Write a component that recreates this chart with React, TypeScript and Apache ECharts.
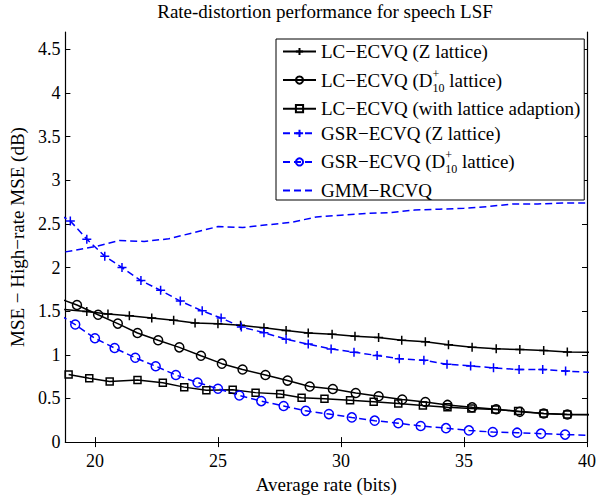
import React, { useEffect, useRef } from 'react';
import * as echarts from 'echarts';

const FONT = 'Liberation Serif';

const titleText = 'Rate-distortion performance for speech LSF';
const xName = 'Average rate (bits)';
const yName = 'MSE \u2212 High\u2212rate MSE (dB)';

const xTicks = [20, 25, 30, 35, 40];
const yTicks = [0, 0.5, 1, 1.5, 2, 2.5, 3, 3.5, 4, 4.5];

const seriesNames = [
  'LC\u2212ECVQ (Z lattice)',
  'LC\u2212ECVQ (D10+ lattice)',
  'LC\u2212ECVQ (with lattice adaption)',
  'GSR\u2212ECVQ (Z lattice)',
  'GSR\u2212ECVQ (D10+ lattice)',
  'GMM\u2212RCVQ',
];

const lcZx = [18.75, 19.67, 20.53, 21.4, 22.31, 23.2, 24.07, 25.0, 25.92, 26.87, 27.77, 28.67, 29.64, 30.57, 31.53, 32.47, 33.43, 34.37, 35.33, 36.31, 37.27, 38.24, 39.2, 40.15];
const lcZy = [1.52, 1.497, 1.467, 1.448, 1.422, 1.396, 1.366, 1.355, 1.34, 1.31, 1.28, 1.25, 1.235, 1.213, 1.198, 1.168, 1.15, 1.116, 1.086, 1.07, 1.06, 1.049, 1.034, 1.03];

const lcDx = [18.7, 19.27, 20.13, 20.93, 21.73, 22.57, 23.43, 24.31, 25.16, 26.0, 26.93, 27.83, 28.73, 29.67, 30.6, 31.53, 32.49, 33.43, 34.33, 35.33, 36.31, 37.27, 38.24, 39.2, 40.15];
const lcDy = [1.63, 1.571, 1.459, 1.358, 1.25, 1.168, 1.086, 0.989, 0.899, 0.832, 0.769, 0.705, 0.638, 0.608, 0.563, 0.526, 0.489, 0.459, 0.426, 0.4, 0.377, 0.347, 0.328, 0.317, 0.315];

const lcAx = [18.93, 19.77, 20.6, 21.73, 22.76, 23.63, 24.53, 25.6, 26.53, 27.53, 28.4, 29.33, 30.37, 31.33, 32.33, 33.33, 34.33, 35.3, 36.27, 37.2, 38.24, 39.2, 40.15];
const lcAy = [0.775, 0.731, 0.694, 0.713, 0.68, 0.63, 0.595, 0.601, 0.567, 0.55, 0.507, 0.498, 0.48, 0.462, 0.442, 0.42, 0.4, 0.384, 0.375, 0.355, 0.328, 0.316, 0.314];

const gsrZx = [18.6, 19.0, 19.67, 20.4, 21.1, 21.87, 22.67, 23.47, 24.36, 25.13, 25.95, 26.87, 27.77, 28.67, 29.6, 30.53, 31.47, 32.37, 33.37, 34.31, 35.27, 36.2, 37.24, 38.2, 39.13, 40.15];
const gsrZy = [2.6, 2.534, 2.326, 2.131, 2.0, 1.851, 1.739, 1.616, 1.504, 1.422, 1.32, 1.254, 1.179, 1.123, 1.067, 1.03, 0.993, 0.955, 0.937, 0.892, 0.873, 0.851, 0.832, 0.832, 0.814, 0.8];

const gsrDx = [18.6, 19.2, 20.0, 20.8, 21.64, 22.47, 23.29, 24.17, 25.0, 25.87, 26.76, 27.67, 28.57, 29.51, 30.44, 31.37, 32.33, 33.24, 34.27, 35.2, 36.17, 37.16, 38.13, 39.11, 40.15];
const gsrDy = [1.45, 1.347, 1.19, 1.078, 0.966, 0.87, 0.769, 0.683, 0.612, 0.534, 0.47, 0.414, 0.358, 0.321, 0.283, 0.246, 0.216, 0.185, 0.16, 0.134, 0.115, 0.108, 0.097, 0.086, 0.078];

const gmmX = [18.8, 20, 21, 22, 23, 24, 25, 26, 27, 28, 29, 30, 31, 32, 33, 34, 35, 36, 37, 38, 39, 40];
const gmmY = [2.18, 2.24, 2.31, 2.3, 2.33, 2.4, 2.47, 2.46, 2.49, 2.52, 2.58, 2.6, 2.62, 2.63, 2.66, 2.67, 2.68, 2.7, 2.73, 2.73, 2.74, 2.74];

const zip = (xs: number[], ys: number[]) => xs.map((x, i) => [x, ys[i]]);

const PLUS = 'path://M5,0 L5,10 M0,5 L10,5';
const BLUE = '#0000ff';
const BLACK = '#000000';

const legendRich: Record<string, string> = {
  [seriesNames[1]]: '{t|LC\u2212ECVQ (D}{sup|+}{sub|10}{t| lattice)}',
  [seriesNames[4]]: '{t|GSR\u2212ECVQ (D}{sup|+}{sub|10}{t| lattice)}',
};

function makeSeries(name: string, data: number[][], color: string, dashed: boolean, symbol: string, symbolSize: number) {
  return {
    name,
    type: 'line',
    data,
    clip: true,
    showSymbol: symbol !== 'none',
    symbol,
    symbolSize,
    lineStyle: { color, width: 1.5, type: dashed ? [7, 4] : 'solid' },
    itemStyle: { color: 'transparent', borderColor: color, borderWidth: 1.5 },
    emphasis: { disabled: true },
    z: 2,
  };
}

export default function App() {
  const ref = useRef<HTMLDivElement>(null);
  useEffect(() => {
    if (!ref.current) return;
    const chart = echarts.init(ref.current, null, { renderer: 'svg' });
    const axisCommon = {
      type: 'value',
      axisLine: { show: true, lineStyle: { color: BLACK, width: 1.2 } },
      splitLine: { show: false },
    };
    const legendData = seriesNames.map((name, i) =>
      i === 5
        ? { name, itemStyle: { color: 'transparent', borderColor: 'transparent', borderWidth: 0, opacity: 0 } }
        : { name }
    );
    chart.setOption({
      animation: false,
      backgroundColor: '#ffffff',
      textStyle: { fontFamily: FONT },
      title: {
        text: titleText,
        left: 325,
        textAlign: 'center',
        top: 2,
        padding: 0,
        textStyle: { fontFamily: FONT, fontSize: 19, fontWeight: 'normal', color: BLACK },
      },
      grid: { left: 60, right: 9, top: 32, bottom: 47, containLabel: false },
      legend: {
        orient: 'vertical',
        left: 276,
        top: 39,
        padding: [3, 4, 0, 6],
        itemGap: 5.6,
        itemWidth: 33,
        itemHeight: 9,
        backgroundColor: '#ffffff',
        borderColor: BLACK,
        borderWidth: 1,
        borderRadius: 0,
        selectedMode: false,
        data: legendData,
        formatter: (name: string) => legendRich[name] ?? `{t|${name}}`,
        textStyle: {
          fontFamily: FONT,
          fontSize: 19,
          color: BLACK,
          rich: {
            t: { fontFamily: FONT, fontSize: 19, lineHeight: 22, color: BLACK },
            sup: { fontFamily: FONT, fontSize: 12, lineHeight: 22, width: 0, padding: [0, 0, 13, 0], color: BLACK },
            sub: { fontFamily: FONT, fontSize: 12, lineHeight: 22, padding: [15, 0, 0, 0], color: BLACK },
          },
        },
      },
      xAxis: [
        {
          ...axisCommon,
          position: 'bottom',
          min: 18.8,
          max: 40,
          name: xName,
          nameLocation: 'middle',
          nameGap: 26,
          nameTextStyle: { fontFamily: FONT, fontSize: 19, color: BLACK },
          axisTick: { show: true, inside: true, length: 5, customValues: xTicks, lineStyle: { color: BLACK, width: 1 } },
          axisLabel: { show: true, customValues: xTicks, margin: 10, fontFamily: FONT, fontSize: 18, color: BLACK },
        },
        {
          ...axisCommon,
          position: 'top',
          min: 18.8,
          max: 40,
          axisTick: { show: true, inside: true, length: 5, customValues: xTicks, lineStyle: { color: BLACK, width: 1 } },
          axisLabel: { show: false },
        },
      ],
      yAxis: [
        {
          ...axisCommon,
          position: 'left',
          min: 0,
          max: 4.7,
          name: yName,
          nameLocation: 'middle',
          nameGap: 35,
          nameRotate: 90,
          nameTextStyle: { fontFamily: FONT, fontSize: 19, color: BLACK },
          axisTick: { show: true, inside: true, length: 5, customValues: yTicks, lineStyle: { color: BLACK, width: 1 } },
          axisLabel: { show: true, customValues: yTicks, margin: 5, fontFamily: FONT, fontSize: 18, color: BLACK },
        },
        {
          ...axisCommon,
          position: 'right',
          min: 0,
          max: 4.7,
          axisTick: { show: true, inside: true, length: 5, customValues: yTicks, lineStyle: { color: BLACK, width: 1 } },
          axisLabel: { show: false },
        },
      ],
      series: [
        makeSeries(seriesNames[0], zip(lcZx, lcZy), BLACK, false, PLUS, 9),
        makeSeries(seriesNames[1], zip(lcDx, lcDy), BLACK, false, 'circle', 9),
        makeSeries(seriesNames[2], zip(lcAx, lcAy), BLACK, false, 'rect', 7),
        makeSeries(seriesNames[3], zip(gsrZx, gsrZy), BLUE, true, PLUS, 9),
        makeSeries(seriesNames[4], zip(gsrDx, gsrDy), BLUE, true, 'circle', 9),
        makeSeries(seriesNames[5], zip(gmmX, gmmY), BLUE, true, 'none', 0),
      ],
    });
    return () => chart.dispose();
  }, []);
  return <div ref={ref} style={{ width: 599, height: 499, position: 'absolute', left: 0, top: 0 }} />;
}
